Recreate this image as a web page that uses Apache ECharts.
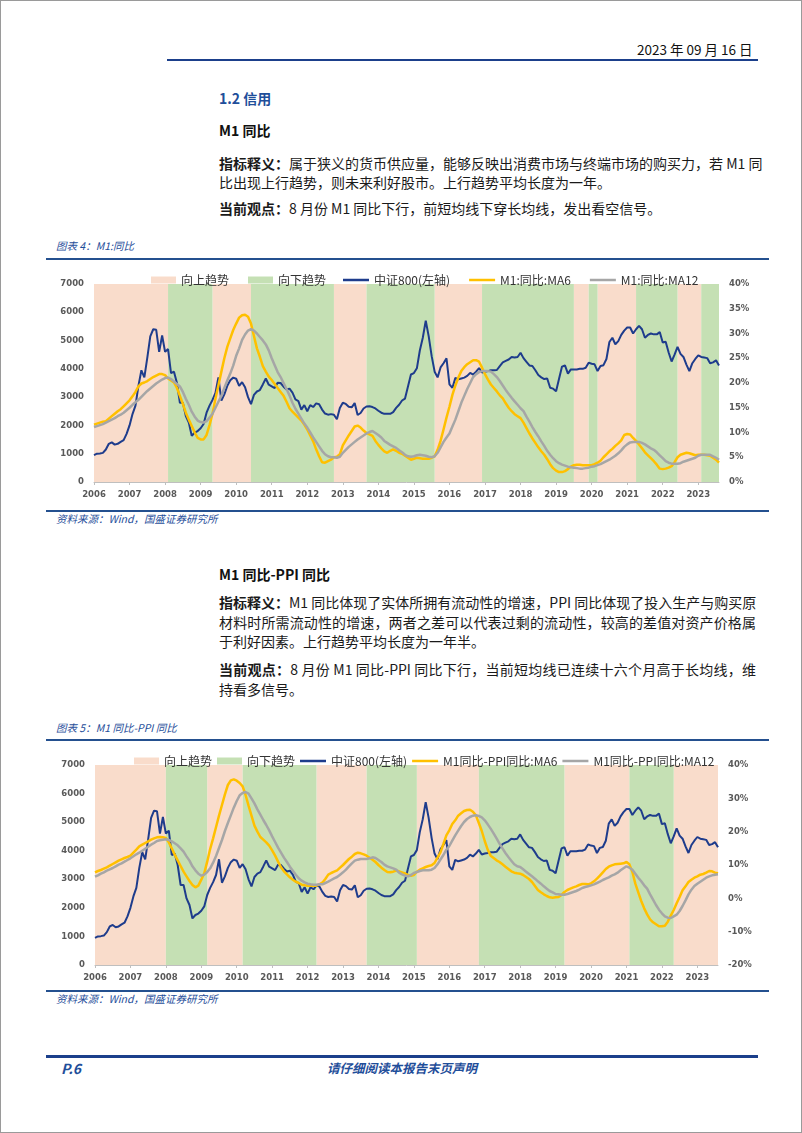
<!DOCTYPE html>
<html>
<head>
<meta charset="utf-8">
<script src="https://cdn.jsdelivr.net/npm/echarts@6/dist/echarts.min.js"></script>
<style>
html,body{margin:0;padding:0;background:#fff;}
#page{position:relative;width:802px;height:1133px;overflow:hidden;font-family:"Noto Sans CJK SC","Noto Sans",sans-serif;color:#1a1a1a;box-sizing:border-box;border:1px solid #9a9a9a;}
.abs{position:absolute;white-space:nowrap;}
.hline{position:absolute;height:2px;}
.para{position:absolute;left:218px;width:537px;font-size:14px;line-height:20px;height:20px;white-space:nowrap;}
.just{text-align:justify;text-align-last:justify;}
.b{font-weight:700;}
.cap{position:absolute;left:55px;font-size:10.5px;line-height:14px;font-style:italic;color:#1F4E9A;white-space:nowrap;}
.chart{position:absolute;left:0;width:802px;height:244px;}
</style>
</head>
<body>
<div id="page">
  <div class="abs" style="left:636px;top:39px;font-size:13.5px;line-height:18px;color:#111;">2023 年 09 月 16 日</div>
  <div class="hline" style="left:166px;top:58px;width:591px;background:#1B3F8B;"></div>

  <div class="abs b" style="left:218px;top:87px;font-size:14px;line-height:20px;color:#1F4E9A;">1.2 信用</div>
  <div class="abs b" style="left:218px;top:119px;font-size:14px;line-height:20px;color:#111;">M1 同比</div>
  <div class="para just" style="top:152px;"><span class="b">指标释义：</span>属于狭义的货币供应量，能够反映出消费市场与终端市场的购买力，若 M1 同</div>
  <div class="para" style="top:171px;">比出现上行趋势，则未来利好股市。上行趋势平均长度为一年。</div>
  <div class="para" style="top:197px;"><span class="b">当前观点：</span>8 月份 M1 同比下行，前短均线下穿长均线，发出看空信号。</div>

  <div class="cap" style="top:238px;">图表 4：M1:同比</div>
  <div class="hline" style="left:45px;top:257px;width:723px;background:#24508F;"></div>
  <div id="c1" class="chart" style="top:262px;"></div>
  <div class="hline" style="left:45px;top:509px;width:723px;height:1.5px;background:#24508F;"></div>
  <div class="cap" style="top:511px;">资料来源：Wind，国盛证券研究所</div>

  <div class="abs b" style="left:218px;top:563px;font-size:14px;line-height:20px;color:#111;">M1 同比-PPI 同比</div>
  <div class="para just" style="top:591px;"><span class="b">指标释义：</span>M1 同比体现了实体所拥有流动性的增速，PPI 同比体现了投入生产与购买原</div>
  <div class="para just" style="top:611px;">材料时所需流动性的增速，两者之差可以代表过剩的流动性，较高的差值对资产价格属</div>
  <div class="para" style="top:630px;">于利好因素。上行趋势平均长度为一年半。</div>
  <div class="para just" style="top:658px;"><span class="b">当前观点：</span>8 月份 M1 同比-PPI 同比下行，当前短均线已连续十六个月高于长均线，维</div>
  <div class="para" style="top:678px;">持看多信号。</div>

  <div class="cap" style="top:720px;">图表 5：M1 同比-PPI 同比</div>
  <div class="hline" style="left:45px;top:738px;width:723px;background:#24508F;"></div>
  <div id="c2" class="chart" style="top:742px;"></div>
  <div class="hline" style="left:45px;top:989px;width:723px;height:1.5px;background:#24508F;"></div>
  <div class="cap" style="top:991px;">资料来源：Wind，国盛证券研究所</div>

  <div class="hline" style="left:45px;top:1054px;width:712px;height:2.5px;background:#1B3F8B;"></div>
  <div class="abs b" style="left:60px;top:1058px;font-size:14px;line-height:18px;font-style:italic;color:#1F4E9A;">P.6</div>
  <div class="abs b" style="left:321px;top:1059px;width:160px;text-align:center;font-size:12.5px;line-height:16px;font-style:italic;color:#1F4E9A;">请仔细阅读本报告末页声明</div>
</div>

<script>
// ---------------- DATA ----------------
const START_YEAR = 2006;
const MONTH_COUNT = 212; // 2006-01 .. 2023-08

// CSI 800 index (left axis), monthly
const csi800 = [
  950,1000,1010,1030,1150,1350,1400,1320,1350,1420,1480,1700,
  2000,2400,2700,3400,3950,3700,4400,5150,5400,5380,4600,5180,
  4600,4700,3850,3900,3500,2800,2800,2330,2100,1630,1750,1800,
  1900,2050,2450,2700,2900,3150,3700,2880,3100,3400,3600,3690,
  3650,3400,3530,3350,3000,2750,3080,3200,3250,3450,3660,3440,
  3380,3320,3510,3500,3370,3270,3300,3160,2920,2860,2560,2720,
  2500,2720,2650,2780,2750,2560,2420,2380,2400,2380,2220,2620,
  2800,2760,2660,2640,2790,2370,2440,2600,2670,2680,2650,2600,
  2520,2450,2410,2410,2410,2470,2620,2730,2880,2950,3380,3800,
  3850,4020,4650,5100,5700,5150,4450,3900,3700,4050,4200,4370,
  3450,3330,3680,3630,3660,3690,3750,3860,3800,3900,4030,3870,
  3900,3920,3950,3950,3960,4100,4230,4280,4330,4420,4400,4420,
  4570,4380,4250,4120,4100,3950,3780,3700,3640,3660,3330,3300,
  3210,3650,4080,4120,3830,3980,3980,3980,4000,4000,4040,4220,
  4180,4160,3920,4100,4130,4350,4950,5100,4870,4980,5200,5350,
  5460,5460,5250,5400,5520,5400,5100,5200,5250,5220,5220,5300,
  4930,4960,4580,4260,4500,4780,4530,4420,4150,3920,4200,4350,
  4480,4420,4400,4380,4200,4230,4300,4120
];

// M1 YoY MA6 (%)
const m1Ma6 = [
  11.6,11.8,12.0,12.2,12.3,12.8,13.3,13.8,14.3,14.7,15.3,15.9,
  16.5,17.3,18.2,19.3,19.9,20.1,20.4,20.8,21.2,21.5,21.8,21.8,
  21.6,20.9,20.5,20.1,19.0,17.4,15.8,14.0,12.6,11.3,10.0,8.9,
  8.6,8.6,9.5,11.5,13.8,16.8,19.5,22.3,25.0,27.3,29.0,30.7,
  32.0,33.2,33.7,33.8,33.4,32.0,29.5,27.0,25.3,23.4,22.3,21.3,
  20.6,19.8,19.0,18.2,17.4,16.2,14.9,14.2,13.6,13.0,12.4,11.6,
  10.6,9.4,8.2,6.6,5.2,4.0,3.9,4.2,4.5,5.0,5.1,5.6,
  7.4,8.4,9.4,10.3,11.2,11.4,11.0,10.4,9.9,9.6,9.3,8.3,
  7.5,6.8,6.2,5.9,6.3,6.6,6.3,5.9,5.7,5.3,4.9,4.5,
  4.7,4.9,4.8,4.7,4.7,4.7,4.9,5.2,6.5,8.3,10.6,13.0,
  15.2,17.6,19.5,21.1,22.4,23.2,23.8,24.2,24.6,24.6,24.3,23.1,
  21.8,20.7,19.7,19.0,18.3,17.5,16.9,15.9,15.0,14.3,13.7,13.3,
  12.9,12.0,10.9,9.8,8.8,7.9,7.0,6.2,5.5,4.6,3.6,2.8,
  2.3,2.0,2.0,2.2,2.6,3.1,3.4,3.5,3.5,3.4,3.4,3.4,
  3.4,3.6,3.9,4.3,5.0,5.6,6.2,6.7,7.3,7.8,8.4,9.5,
  9.7,9.6,8.9,8.3,7.6,6.8,6.0,5.4,4.8,4.2,3.5,2.7,
  2.6,2.7,2.9,3.2,4.0,5.0,5.5,5.7,5.9,5.8,5.6,5.4,
  5.5,5.5,5.5,5.4,5.3,4.9,4.5,3.9
];

// M1 YoY MA12 (%)
const m1Ma12 = [
  11.1,11.3,11.5,11.7,12.0,12.3,12.6,12.9,13.3,13.6,14.0,14.5,
  15.0,15.6,16.1,16.6,17.2,17.8,18.4,18.9,19.4,19.9,20.3,20.7,
  21.0,21.1,20.8,20.3,19.8,19.3,18.2,16.8,15.6,14.2,13.2,12.4,
  12.1,12.0,12.3,13.0,13.8,15.0,16.2,17.4,19.0,20.5,21.9,23.5,
  25.5,27.0,28.7,29.8,30.6,30.9,30.6,30.0,29.3,28.6,27.8,26.6,
  25.0,23.6,22.2,21.2,20.0,18.8,17.5,16.0,14.8,13.8,12.8,11.8,
  11.0,10.0,9.0,8.1,7.2,6.3,5.6,5.2,5.0,5.0,4.9,5.1,
  5.9,6.5,7.1,7.6,8.1,8.6,9.0,9.4,9.8,10.1,10.3,9.9,
  9.5,9.0,8.3,7.9,7.5,7.2,6.9,6.4,6.0,5.5,5.2,5.1,
  5.2,5.4,5.5,5.4,5.3,5.1,5.0,5.2,5.9,7.0,8.1,9.0,
  9.8,11.2,12.6,14.3,16.0,17.4,18.8,20.0,21.2,21.8,22.2,22.4,
  22.4,22.4,22.3,21.8,21.2,20.4,19.5,18.6,17.8,17.0,16.3,15.6,
  14.9,14.3,13.2,12.2,11.1,10.1,9.2,8.2,7.3,6.3,5.5,4.8,
  4.2,3.8,3.5,3.3,3.1,3.0,2.9,2.8,2.7,2.7,2.8,2.9,
  3.1,3.2,3.4,3.6,3.9,4.2,4.5,4.9,5.3,5.8,6.4,7.1,
  7.6,8.0,8.1,8.1,8.1,7.9,7.6,7.2,6.8,6.5,6.0,5.4,
  4.8,4.2,3.9,3.7,3.7,3.7,3.8,4.1,4.3,4.5,4.7,4.9,
  5.3,5.5,5.5,5.5,5.5,5.2,4.9,4.5
];

// M1 YoY - PPI YoY MA6 (%)
const gapMa6 = [
  7.8,8.2,8.5,8.9,9.3,9.8,10.3,10.8,11.3,11.7,12.1,12.4,
  12.8,13.7,14.6,15.6,16.1,16.6,17.1,17.6,18.0,18.3,18.4,18.3,
  18.1,16.8,15.0,13.1,11.4,9.7,8.0,6.6,5.2,4.0,3.3,3.8,
  5.6,7.5,11.0,14.8,18.0,21.4,24.8,28.0,31.2,34.0,35.4,35.7,
  35.3,34.6,33.6,31.0,27.8,24.8,21.8,20.0,18.4,17.6,16.8,15.8,
  14.4,12.8,11.0,9.3,8.1,7.2,6.3,5.6,5.0,4.6,4.1,3.9,
  3.8,3.8,3.8,3.8,4.2,4.7,5.8,7.1,7.6,8.0,8.4,9.2,
  10.0,10.9,11.8,12.5,13.3,13.7,13.5,13.2,12.8,12.2,11.6,10.9,
  10.0,9.2,8.5,7.9,7.8,8.0,8.3,8.1,7.8,7.5,7.0,6.8,
  7.0,8.0,8.6,9.0,9.4,9.7,9.9,10.6,12.2,13.8,16.3,18.9,
  20.4,22.3,23.4,24.8,25.5,26.2,26.5,26.6,26.0,24.9,22.6,20.2,
  17.2,14.6,12.8,12.1,11.4,10.9,10.2,9.5,8.8,8.1,7.7,7.5,
  7.4,7.0,6.4,5.8,4.9,3.7,2.5,1.8,1.2,0.7,0.3,0.2,
  0.3,0.4,1.0,1.9,2.5,2.9,3.3,3.6,4.0,4.3,4.3,4.2,
  4.5,5.1,5.9,6.8,7.8,8.8,9.5,9.9,10.2,10.3,10.4,10.5,
  10.9,10.2,7.9,4.4,1.8,-0.8,-3.0,-4.8,-6.3,-7.2,-7.8,-8.4,
  -8.4,-8.2,-7.0,-5.2,-3.5,-1.5,0.4,2.4,3.6,4.9,5.6,6.2,
  6.6,7.1,7.3,7.7,8.2,8.1,7.7,7.5
];

// M1 YoY - PPI YoY MA12 (%)
const gapMa12 = [
  6.5,6.9,7.4,7.8,8.3,8.7,9.1,9.6,10.1,10.5,11.0,11.5,
  12.0,12.6,13.2,13.7,14.3,14.9,15.5,16.1,16.6,17.2,17.4,17.6,
  17.7,17.5,17.1,16.5,15.9,15.0,14.0,12.6,11.3,9.6,8.4,7.4,
  6.8,7.1,7.9,9.0,10.7,12.7,15.1,17.5,20.2,22.6,24.9,27.2,
  29.2,30.9,31.6,31.9,31.4,30.0,28.5,26.7,25.1,23.5,22.0,20.4,
  18.6,16.9,15.2,13.7,12.2,10.9,9.5,8.3,7.1,6.0,5.3,4.8,
  4.4,4.2,4.1,4.1,4.2,4.2,4.6,5.0,5.5,6.0,6.4,7.1,
  7.8,8.6,9.6,10.5,11.3,11.6,11.8,11.8,11.8,12.0,12.3,12.1,
  11.5,10.9,10.1,9.6,9.3,9.0,8.6,7.7,7.2,6.8,6.6,7.0,
  7.6,7.9,8.2,8.4,8.4,8.4,8.6,9.1,10.2,11.6,13.0,14.6,
  15.7,17.3,18.9,20.3,21.7,22.9,23.8,24.4,24.8,24.9,24.7,24.3,
  23.4,22.2,20.9,19.5,18.0,16.4,15.0,13.6,12.4,11.3,10.2,9.6,
  9.4,8.7,8.0,7.3,6.6,5.9,5.1,4.4,3.6,2.9,2.2,1.8,
  1.3,1.2,1.1,1.1,1.3,1.6,1.9,2.2,2.6,3.1,3.4,3.6,
  3.9,4.2,4.6,5.0,5.5,5.9,6.3,6.8,7.2,7.7,8.4,9.0,
  9.6,9.2,8.6,7.4,6.2,5.1,3.9,2.9,1.2,-0.4,-2.0,-3.4,
  -4.5,-5.4,-5.8,-5.9,-5.4,-4.9,-3.8,-2.3,-0.6,1.2,2.6,3.7,
  4.4,5.0,5.6,6.2,6.6,6.9,7.1,7.2
];

// Trend bands [start month, end month]
const m1UpBands = [['2006-01','2008-02'],['2009-05','2010-06'],['2012-10','2013-09'],['2015-08','2016-12'],['2019-07','2019-12'],['2020-03','2021-04'],['2022-06','2023-02']];
const m1DownBands = [['2008-02','2009-05'],['2010-06','2012-10'],['2013-09','2015-08'],['2016-12','2019-07'],['2019-12','2020-03'],['2021-04','2022-06'],['2023-02','2023-08']];
const gapUpBands = [['2006-01','2008-01'],['2009-03','2010-03'],['2012-04','2013-09'],['2015-02','2016-11'],['2019-04','2021-02'],['2022-05','2023-08']];
const gapDownBands = [['2008-01','2009-03'],['2010-03','2012-04'],['2013-09','2015-02'],['2016-11','2019-04'],['2021-02','2022-05']];

const leftTicks = {min:0, max:7000, interval:1000};
const m1RightTicks = {min:0, max:40, interval:5};
const gapRightTicks = {min:-20, max:40, interval:10};

// ---------------- BUILD ----------------
const months = [];
for (let i = 0; i < MONTH_COUNT; i++) {
  const y = START_YEAR + Math.floor(i / 12), m = i % 12 + 1;
  months.push(y + '-' + String(m).padStart(2, '0'));
}

const PEACH = '#F9DCCB', GREEN = '#C5E0B4', NAVY = '#1E3C8C', GOLD = '#FFC000', GREY = '#A6A6A6';
const AX = {fontFamily:'DejaVu Sans', fontWeight:'bold', fontSize:8.5, color:'#595959'};
const isJan = (idx, val) => String(val).slice(5) === '01';

function bandSeries(name, color, bands) {
  return {
    name, type:'line', data:[], z:1, symbol:'none', color,
    itemStyle:{color}, lineStyle:{color},
    markArea:{silent:true, itemStyle:{color, opacity:1, borderWidth:0},
      data: bands.map(b => [{xAxis:b[0]}, {xAxis:b[1]}])}
  };
}
function lineSeries(name, color, data, yIdx, width) {
  return {name, type:'line', data, yAxisIndex:yIdx, symbol:'none', showSymbol:false, z:5,
    color, lineStyle:{color, width}, itemStyle:{color}};
}

function makeOption(cfg) {
  const legendText = {fontSize:12, color:'#333', fontFamily:'"Noto Sans CJK SC", sans-serif'};
  return {
    animation:false,
    textStyle:{fontFamily:'"Noto Sans CJK SC", sans-serif'},
    grid:cfg.grid,
    legend:[
      {left:cfg.legendLeft, top:cfg.legendTop, itemGap:cfg.itemGap, itemWidth:25, itemHeight:7,
        selectedMode:false, icon:'rect', textStyle:legendText,
        data:[cfg.names[0], cfg.names[1]]},
      {left:cfg.legend2Left, top:cfg.legendTop, itemGap:cfg.itemGap, itemWidth:26, itemHeight:2.5,
        selectedMode:false, icon:'rect', textStyle:legendText,
        data:[cfg.names[2], cfg.names[3], cfg.names[4]]}
    ],
    xAxis:{
      type:'category', data:months, boundaryGap:false,
      axisLine:{show:true, lineStyle:{color:'#BFBFBF', width:1}},
      axisTick:{show:true, interval:isJan, length:3, lineStyle:{color:'#BFBFBF'}},
      axisLabel:Object.assign({interval:isJan, margin:8, formatter:v => v.slice(0,4)}, AX),
      splitLine:{show:false}
    },
    yAxis:[
      Object.assign({type:'value', axisLine:{show:false}, axisTick:{show:false}, splitLine:{show:false},
        axisLabel:Object.assign({margin:10, formatter:v => String(v)}, AX)}, leftTicks),
      Object.assign({type:'value', position:'right', axisLine:{show:false}, axisTick:{show:false}, splitLine:{show:false},
        axisLabel:Object.assign({margin:10, formatter:v => v + '%'}, AX)}, cfg.right)
    ],
    series:[
      bandSeries(cfg.names[0], PEACH, cfg.up),
      bandSeries(cfg.names[1], GREEN, cfg.down),
      lineSeries(cfg.names[2], NAVY, csi800, 0, 2),
      lineSeries(cfg.names[3], GOLD, cfg.ma6, 1, 2.5),
      lineSeries(cfg.names[4], GREY, cfg.ma12, 1, 2.5)
    ]
  };
}

const c1 = echarts.init(document.getElementById('c1'), null, {renderer:'canvas'});
c1.setOption(makeOption({
  grid:{left:93, right:84, top:21, bottom:25},
  legendLeft:145, legend2Left:337, legendTop:6, itemGap:19,
  names:['向上趋势','向下趋势','中证800(左轴)','M1:同比:MA6','M1:同比:MA12'],
  up:m1UpBands, down:m1DownBands, ma6:m1Ma6, ma12:m1Ma12, right:m1RightTicks
}));

const c2 = echarts.init(document.getElementById('c2'), null, {renderer:'canvas'});
c2.setOption(makeOption({
  grid:{left:94, right:85, top:22, bottom:22},
  legendLeft:128, legend2Left:294, legendTop:7, itemGap:5,
  names:['向上趋势','向下趋势','中证800(左轴)','M1同比-PPI同比:MA6','M1同比-PPI同比:MA12'],
  up:gapUpBands, down:gapDownBands, ma6:gapMa6, ma12:gapMa12, right:gapRightTicks
}));
</script>
</body>
</html>
